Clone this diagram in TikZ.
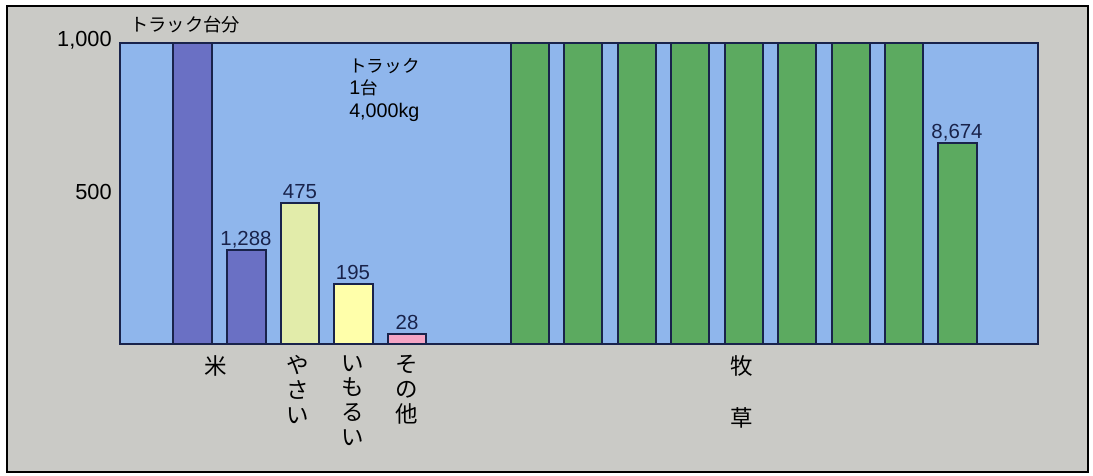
\documentclass[tikz,border=0pt]{standalone}
\usepackage{fontspec}
\setmainfont{Liberation Sans}
\newfontfamily\jp{Noto Sans CJK JP}
\usetikzlibrary{positioning}
\definecolor{bggrey}{RGB}{202,202,198}
\definecolor{plotblue}{RGB}{143,182,236}
\definecolor{riceblue}{RGB}{106,112,196}
\definecolor{vegyel}{RGB}{226,236,170}
\definecolor{imoyel}{RGB}{255,255,170}
\definecolor{etcpink}{RGB}{244,164,196}
\definecolor{grassgrn}{RGB}{92,170,96}
\definecolor{inkblue}{RGB}{25,35,75}
\tikzset{
  bar/.style={draw=inkblue, line width=0.8pt},
  numlbl/.style={font=\fontsize{14.5}{16}\selectfont, text=inkblue, inner sep=0pt, anchor=base},
  axlbl/.style={font=\fontsize{15.5}{17}\selectfont, inner sep=0pt, anchor=east},
  croplbl/.style={font=\jp\fontsize{16}{17.7}\selectfont, align=center, inner sep=0pt, anchor=north},
}

\begin{document}
\begin{tikzpicture}[x=0.025cm, y=-0.025cm]
     \useasboundingbox (0,0) rectangle (1093,475);
     \draw [line width=1.2pt, fill=bggrey] (7,6) rectangle (1088,472);
     \draw [bar, fill=plotblue] (120,43) rectangle (1038,344);

     \node [axlbl] (ytop) at (112,40) {1,000};
     \node [axlbl] (ymid) at (112,192) {500};
     \node [font=\jp\fontsize{13}{15}\selectfont, anchor=west, inner sep=0pt] (unit) at (130,25) {トラック台分};
     \node [font=\fontsize{14}{16}\selectfont, align=left, anchor=north west, inner sep=0pt] (truck) at (349,58)
        {{\jp\fontsize{12.5}{16}\selectfont トラック}\\1{\jp\fontsize{12.5}{16}\selectfont 台}\\4,000kg};

     % rice
     \draw [bar, fill=riceblue] (173,43) rectangle (212,344);
     \draw [bar, fill=riceblue] (227,250) rectangle (266,344);
     \node [numlbl] (v1288) at (246,245) {1,288};
     % vegetables, potatoes, others
     \draw [bar, fill=vegyel] (281,203) rectangle (319,344);
     \node [numlbl] (v475) at (300,198) {475};
     \draw [bar, fill=imoyel] (334,284) rectangle (373,344);
     \node [numlbl] (v195) at (353,279) {195};
     \draw [bar, fill=etcpink] (388,334) rectangle (426,344);
     \node [numlbl] (v28) at (407,329) {28};

     % pasture grass
     \draw [bar, fill=grassgrn] (511,43) rectangle (549,344);
     \draw [bar, fill=grassgrn] (564,43) rectangle (602,344);
     \draw [bar, fill=grassgrn] (618,43) rectangle (656,344);
     \draw [bar, fill=grassgrn] (671,43) rectangle (709,344);
     \draw [bar, fill=grassgrn] (725,43) rectangle (763,344);
     \draw [bar, fill=grassgrn] (778,43) rectangle (816,344);
     \draw [bar, fill=grassgrn] (832,43) rectangle (870,344);
     \draw [bar, fill=grassgrn] (885,43) rectangle (923,344);
     \draw [bar, fill=grassgrn] (938,143) rectangle (977,344);
     \node [numlbl] (v8674) at (957,138) {8,674};

     \node [croplbl] (kome) at (216,355) {米};
     \node [croplbl] (yasai) at (298,355) {や\\さ\\い};
     \node [croplbl] (imorui) at (353,355) {い\\も\\る\\い};
     \node [croplbl] (sonota) at (407,355) {そ\\の\\他};
     \node [croplbl, font=\jp\fontsize{16}{37.5}\selectfont] (bokuso) at (742,355) {牧\\草};
\end{tikzpicture}
\end{document}
